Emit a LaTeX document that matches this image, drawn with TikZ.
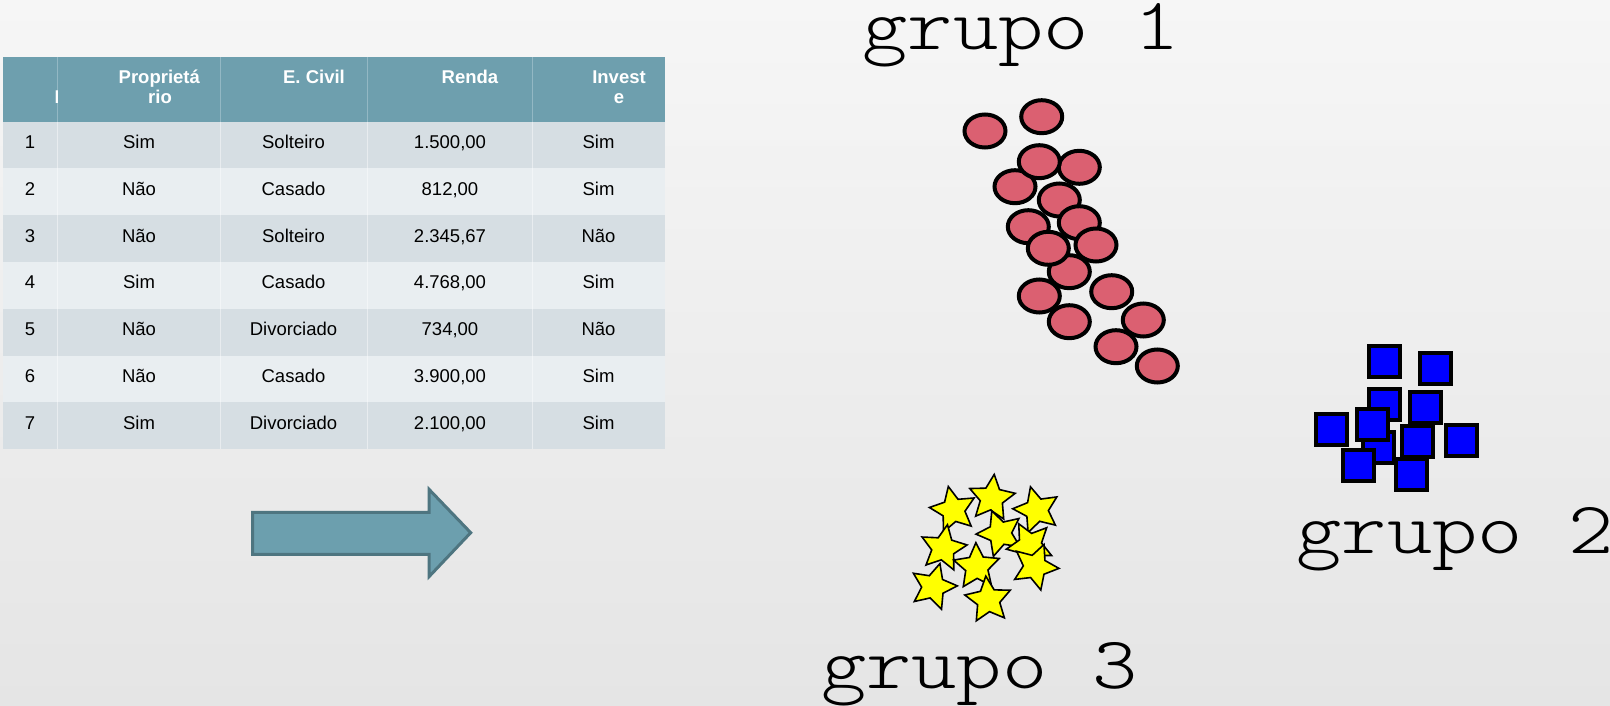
\documentclass[tikz,border=0pt]{standalone}
\usepackage{fontspec}
\setmainfont{Liberation Sans}
\newfontfamily\grpfont{lmmonolt10-regular.otf}
\usetikzlibrary{shapes.geometric}
\definecolor{bgtop}{HTML}{F6F6F6}
\definecolor{bgbot}{HTML}{E5E5E5}
\definecolor{hdr}{HTML}{6E9FAE}
\definecolor{hdrline}{HTML}{93B8C4}
\definecolor{rowA}{HTML}{D6DEE3}
\definecolor{rowB}{HTML}{E9EEF1}
\definecolor{arrfill}{HTML}{6C9FAE}
\definecolor{arredge}{HTML}{4E7580}
\definecolor{pinkdot}{HTML}{DB6071}
\definecolor{starY}{HTML}{FFFF00}
\definecolor{sqB}{HTML}{0000FF}
\begin{document}
\begin{tikzpicture}[x=1pt,y=-1pt,
  cell/.style={inner sep=0pt,anchor=base,font=\fontsize{18.5}{21}\selectfont,text=black},
  hdrtxt/.style={inner sep=0pt,anchor=base,font=\fontsize{18.5}{21}\selectfont\bfseries,text=white},
  grp/.style={inner sep=0pt,anchor=base west,font=\fontsize{74}{74}\selectfont\grpfont},
  dot/.style={ellipse,draw=black,line width=4pt,fill=pinkdot,minimum width=41pt,minimum height=33pt,inner sep=0pt},
  sq/.style={rectangle,draw=black,line width=4pt,fill=sqB,minimum size=31pt,inner sep=0pt},
  st/.style={star,star points=5,star point ratio=2.05,draw=black,line width=1.6pt,fill=starY,minimum size=48pt,inner sep=0pt},
  divline/.style={white,opacity=0.45,line width=1pt}]
\shade[top color=bgtop,bottom color=bgbot] (0,0) rectangle (1610,706);
\useasboundingbox (0,0) rectangle (1610,706);
% table
\fill[hdr] (3.3,57.3) rectangle (665,121.7);
\foreach \k in {0,...,6}{
  \pgfmathtruncatemacro{\m}{mod(\k,2)}
  \ifnum\m=0 \def\rc{rowA}\else\def\rc{rowB}\fi
  \fill[\rc] (3.3,{121.7+\k*46.76}) rectangle (665,{121.7+(\k+1)*46.76});
}
\foreach \xx in {57.3,220,367.3,532.3}{
  \draw[hdrline,line width=1pt] (\xx,57.3) -- (\xx,121.7);
  \draw[divline] (\xx,121.7) -- (\xx,449);
}
\node[hdrtxt] (h2a) at (159.3,83.3) {Proprietá};
\node[hdrtxt] (h2b) at (160,104) {rio};
\node[hdrtxt] (h3) at (314,83.3) {E. Civil};
\node[hdrtxt] (h4) at (470,83.3) {Renda};
\node[hdrtxt] (h5a) at (619,83.3) {Invest};
\node[hdrtxt] (h5b) at (619,104) {e};
\begin{scope}
\clip (3.3,57.3) rectangle (57.3,121.7);
\node[hdrtxt,anchor=base west] (h1) at (54.4,104) {I};
\end{scope}
\foreach \k/\a/\b/\c/\d in {1/Sim/Solteiro/{1.500,00}/Sim, 2/Não/Casado/{812,00}/Sim, 3/Não/Solteiro/{2.345,67}/Não, 4/Sim/Casado/{4.768,00}/Sim, 5/Não/Divorciado/{734,00}/Não, 6/Não/Casado/{3.900,00}/Sim, 7/Sim/Divorciado/{2.100,00}/Sim}{
  \pgfmathsetmacro{\yy}{121.7+(\k-1)*46.76+27}
  \node[cell] (r\k c1) at (30,\yy) {\k};
  \node[cell] (r\k c2) at (139,\yy) {\a};
  \node[cell] (r\k c3) at (293.5,\yy) {\b};
  \node[cell] (r\k c4) at (450,\yy) {\c};
  \node[cell] (r\k c5) at (598.5,\yy) {\d};
}
% arrow
\draw[arredge,fill=arrfill,line width=3pt,line join=miter]
  (252.7,512.3) -- (429,512.3) -- (429,489.3) -- (470.7,532.7) -- (429,576.7) -- (429,554.3) -- (252.7,554.3) -- cycle;
% group labels
\node[grp] (g1) at (862.5,49.3) {\scalebox{1.165}[1]{grupo 1}};
\node[grp] (g2) at (1296.5,553) {\scalebox{1.165}[1]{grupo 2}};
\node[grp] (g3) at (821,688) {\scalebox{1.165}[1]{grupo 3}};
% circles
\foreach \n/\xx/\yy in {1/985/131, 2/1041.7/116.7, 5/1015/186.7, 4/1079.3/167.3, 3/1039.3/161.7, 11/1069.3/271.7, 6/1059.3/200, 7/1028.3/226.7, 8/1079.3/222.7, 10/1096/245, 9/1048.3/248.3, 12/1039.3/296, 13/1111.7/291.7, 14/1069.3/321.7, 15/1143.3/320, 16/1116/346.7, 17/1157.3/366}{
  \node[dot] (c\n) at (\xx,\yy) {};
}
% squares
\foreach \n/\xx/\yy in {a/1384.3/361.7, b/1435/368.3, c/1384.3/404, d/1425.7/407.3, g/1378.3/447.3, e/1331.7/429, f/1372.7/424, h/1417.3/441.7, i/1461.7/440.7, j/1358.3/465, k/1411/474}{
  \node[sq] (s\n) at (\xx,\yy) {};
}
% stars
\foreach \n/\xx/\yy/\r in {1/953.3/510/12, 2/991.7/498.3/-6, 3/1036.7/510/15, 4/1000/533.3/20, 5/943.3/548.3/-10, 6/1030/545/28, 8/1035/566.7/50, 7/976.7/566.7/2, 9/933.3/586.7/-16, 10/988.3/600/6}{
  \node[st,rotate=\r] (t\n) at (\xx,\yy) {};
}
\end{tikzpicture}
\end{document}
